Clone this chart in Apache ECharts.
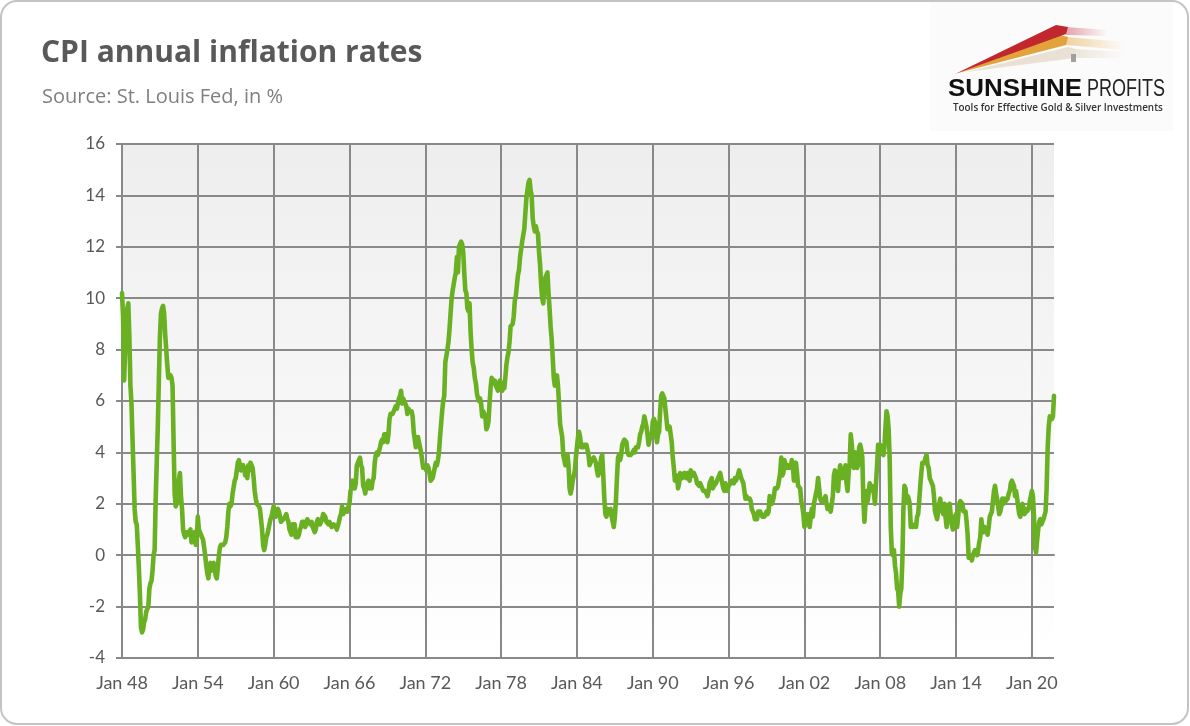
<!DOCTYPE html>
<html>
<head>
<meta charset="utf-8">
<script src="https://cdn.jsdelivr.net/npm/echarts@6/dist/echarts.min.js"></script>
<style>
html,body{margin:0;padding:0;background:#fff;}
#chart{width:1190px;height:726px;}
</style>
</head>
<body>
<div id="chart"></div>
<script>
// ---- data: CPI annual inflation rate (%), monthly, Jan 1948 - Oct 2021 ----
const monthNames = ['Jan','Feb','Mar','Apr','May','Jun','Jul','Aug','Sep','Oct','Nov','Dec'];
const startYear = 1948;
const tickLabels = ['Jan 48','Jan 54','Jan 60','Jan 66','Jan 72','Jan 78','Jan 84','Jan 90','Jan 96','Jan 02','Jan 08','Jan 14','Jan 20'];

const infl1948_1959 = [
  10.2, 9.3, 6.8, 8.0, 9.0, 9.6, 9.8, 8.5, 6.6, 5.9, 4.5, 3.2,
  1.8, 1.3, 1.2, 0.4, -0.5, -1.5, -2.8, -3.0, -2.9, -2.6, -2.5, -2.2,
  -2.1, -2.0, -1.3, -1.1, -1.0, -0.6, 0.0, 0.2, 2.2, 3.6, 5.0, 6.8,
  8.5, 9.4, 9.6, 9.7, 9.4, 8.6, 8.0, 7.4, 6.9, 6.9, 7.0, 6.9,
  6.6, 4.4, 2.4, 1.9, 1.9, 2.1, 2.9, 3.2, 2.3, 1.8, 1.0, 0.8,
  0.7, 0.7, 0.9, 0.8, 0.8, 1.0, 0.5, 0.6, 0.6, 0.9, 0.4, 0.6,
  1.5, 1.0, 0.9, 0.8, 0.8, 0.6, 0.3, 0.0, -0.4, -0.7, -0.9, -0.5,
  -0.3, -0.6, -0.4, -0.3, -0.5, -0.8, -0.9, -0.5, 0.0, 0.3, 0.4, 0.4,
  0.4, 0.4, 0.5, 0.7, 1.1, 1.7, 2.0, 1.9, 2.0, 2.4, 2.4, 2.9,
  3.0, 3.3, 3.6, 3.7, 3.5, 3.3, 3.3, 3.5, 3.4, 3.1, 3.4, 3.0,
  3.5, 3.3, 3.6, 3.6, 3.4, 3.0, 2.5, 2.2, 2.0, 2.0, 1.9, 1.8,
  1.4, 1.0, 0.4, 0.2, 0.4, 0.7, 0.8, 1.0, 1.2, 1.4, 1.5, 1.7
];
const infl1960_1969 = [
  1.9, 1.7, 1.5, 1.7, 1.8, 1.7, 1.5, 1.3, 1.3, 1.4, 1.4, 1.5,
  1.6, 1.4, 1.3, 1.0, 0.9, 0.8, 1.2, 1.0, 1.2, 0.7, 0.7, 0.7,
  0.8, 1.0, 1.1, 1.3, 1.3, 1.3, 1.1, 1.2, 1.4, 1.3, 1.3, 1.2,
  1.3, 1.1, 1.0, 0.9, 1.0, 1.3, 1.4, 1.4, 1.2, 1.3, 1.4, 1.6,
  1.6, 1.5, 1.3, 1.3, 1.2, 1.3, 1.3, 1.1, 1.1, 1.2, 1.2, 1.1,
  1.0, 1.0, 1.3, 1.5, 1.6, 1.9, 1.6, 1.7, 1.7, 1.8, 1.7, 1.9,
  2.0, 2.5, 2.6, 2.9, 2.8, 2.6, 2.8, 3.5, 3.5, 3.7, 3.8, 3.5,
  3.4, 2.7, 2.6, 2.4, 2.7, 2.8, 2.9, 2.6, 2.8, 2.6, 2.9, 3.0,
  3.6, 3.9, 4.0, 3.9, 3.9, 4.2, 4.4, 4.5, 4.4, 4.7, 4.7, 4.7,
  4.4, 4.7, 5.3, 5.5, 5.5, 5.5, 5.5, 5.7, 5.8, 5.7, 5.9, 6.1
];
const infl1970_1979 = [
  6.2, 6.4, 5.9, 6.1, 6.0, 6.0, 5.8, 5.5, 5.7, 5.6, 5.6, 5.6,
  5.4, 4.8, 4.5, 4.2, 4.4, 4.6, 4.4, 4.4, 4.0, 3.7, 3.4, 3.4,
  3.4, 3.3, 3.5, 3.4, 3.2, 2.9, 2.9, 3.0, 3.2, 3.4, 3.6, 3.5,
  3.7, 4.0, 4.6, 5.1, 5.6, 6.0, 6.2, 7.5, 7.5, 8.0, 8.3, 8.8,
  9.4, 10.0, 10.3, 10.3, 10.8, 11.0, 11.6, 11.0, 12.0, 12.1, 12.2, 12.1,
  11.8, 11.0, 10.3, 10.2, 9.6, 9.5, 9.8, 8.7, 8.0, 7.5, 7.3, 6.9,
  6.7, 6.3, 6.1, 6.0, 6.1, 5.9, 5.4, 5.6, 5.5, 5.4, 4.9, 5.0,
  5.2, 5.9, 6.5, 6.9, 6.8, 6.8, 6.8, 6.6, 6.5, 6.4, 6.7, 6.8,
  6.8, 6.4, 6.6, 6.5, 6.9, 7.4, 7.7, 7.9, 8.3, 8.9, 8.9, 9.0,
  9.3, 9.9, 10.1, 10.5, 10.9, 11.1, 11.6, 11.9, 12.2, 12.2, 12.7, 13.3
];
const infl1980_1989 = [
  13.9, 14.2, 14.5, 14.6, 14.2, 14.0, 13.1, 12.8, 12.6, 12.8, 12.6, 12.5,
  11.8, 11.3, 10.5, 10.0, 9.8, 9.8, 10.8, 10.9, 11.0, 10.2, 9.6, 8.9,
  8.4, 7.7, 6.9, 6.6, 6.9, 7.0, 6.6, 5.9, 5.1, 5.1, 4.6, 3.9,
  3.7, 3.5, 3.6, 3.9, 3.5, 2.6, 2.4, 2.6, 2.9, 2.9, 3.3, 3.8,
  4.2, 4.6, 4.8, 4.6, 4.2, 4.2, 4.2, 4.3, 4.3, 4.3, 4.1, 3.9,
  3.5, 3.5, 3.7, 3.7, 3.8, 3.8, 3.6, 3.3, 3.1, 3.2, 3.5, 3.8,
  3.9, 3.1, 2.2, 1.6, 1.5, 1.8, 1.6, 1.6, 1.8, 1.5, 1.3, 1.1,
  1.5, 2.1, 3.0, 3.8, 3.9, 3.7, 3.9, 4.3, 4.4, 4.5, 4.5, 4.4,
  4.0, 3.9, 3.9, 3.9, 3.9, 4.0, 4.1, 4.0, 4.2, 4.2, 4.2, 4.4,
  4.7, 4.8, 5.0, 5.1, 5.4, 5.2, 5.0, 4.7, 4.3, 4.5, 4.7, 4.6
];
const infl1990_1999 = [
  5.2, 5.3, 5.2, 4.7, 4.4, 4.7, 4.8, 5.6, 6.2, 6.3, 6.3, 6.1,
  5.7, 5.3, 4.9, 4.9, 5.0, 4.7, 4.4, 3.8, 3.4, 2.9, 3.0, 3.1,
  2.6, 2.8, 3.2, 3.2, 3.0, 3.1, 3.2, 3.1, 3.0, 3.2, 3.0, 2.9,
  3.3, 3.2, 3.1, 3.2, 3.2, 3.0, 2.8, 2.8, 2.7, 2.8, 2.7, 2.7,
  2.5, 2.5, 2.5, 2.4, 2.3, 2.5, 2.8, 2.9, 3.0, 2.6, 2.7, 2.7,
  2.8, 2.9, 2.9, 3.1, 3.2, 3.0, 2.8, 2.6, 2.5, 2.8, 2.6, 2.5,
  2.7, 2.7, 2.8, 2.9, 2.9, 2.8, 3.0, 2.9, 3.0, 3.0, 3.3, 3.3,
  3.0, 3.0, 2.8, 2.5, 2.2, 2.3, 2.2, 2.2, 2.2, 2.1, 1.8, 1.7,
  1.6, 1.4, 1.4, 1.4, 1.7, 1.7, 1.7, 1.6, 1.5, 1.5, 1.5, 1.6,
  1.7, 1.6, 1.7, 2.3, 2.1, 2.0, 2.1, 2.3, 2.6, 2.6, 2.6, 2.7
];
const infl2000_2009 = [
  2.7, 3.2, 3.8, 3.1, 3.2, 3.7, 3.7, 3.4, 3.5, 3.4, 3.4, 3.4,
  3.7, 3.5, 2.9, 3.3, 3.6, 3.2, 2.7, 2.7, 2.6, 2.1, 1.9, 1.6,
  1.1, 1.1, 1.5, 1.6, 1.2, 1.1, 1.5, 1.8, 1.5, 2.0, 2.2, 2.4,
  2.6, 3.0, 3.0, 2.2, 2.1, 2.1, 2.1, 2.2, 2.3, 2.0, 1.8, 1.9,
  1.9, 1.7, 1.7, 2.3, 3.1, 3.3, 3.0, 2.7, 2.5, 3.2, 3.5, 3.3,
  3.0, 3.0, 3.1, 3.5, 2.8, 2.5, 3.2, 3.6, 4.7, 4.3, 3.5, 3.4,
  4.0, 3.6, 3.4, 3.5, 4.2, 4.3, 4.1, 3.8, 2.1, 1.3, 2.0, 2.5,
  2.1, 2.4, 2.8, 2.6, 2.7, 2.7, 2.4, 2.0, 2.8, 3.5, 4.3, 4.1,
  4.3, 4.0, 4.0, 3.9, 4.2, 5.0, 5.6, 5.4, 4.9, 3.7, 1.1, 0.1,
  0.0, 0.2, -0.4, -0.7, -1.3, -1.4, -2.0, -1.5, -1.3, -0.2, 1.8, 2.7
];
const infl2010_2021 = [
  2.6, 2.1, 2.3, 2.2, 2.0, 1.1, 1.2, 1.1, 1.1, 1.2, 1.1, 1.5,
  1.6, 2.1, 2.7, 3.2, 3.6, 3.6, 3.6, 3.8, 3.9, 3.5, 3.4, 3.0,
  2.9, 2.9, 2.7, 2.3, 1.7, 1.7, 1.4, 1.7, 2.0, 2.2, 1.8, 1.7,
  1.6, 2.0, 1.5, 1.1, 1.4, 1.8, 2.0, 1.5, 1.2, 1.0, 1.2, 1.5,
  1.6, 1.1, 1.5, 2.0, 2.1, 2.1, 2.0, 1.7, 1.7, 1.7, 1.3, 0.8,
  -0.1, 0.0, -0.1, -0.2, 0.0, 0.1, 0.2, 0.2, 0.0, 0.2, 0.5, 0.7,
  1.4, 1.0, 0.9, 1.1, 1.0, 1.0, 0.8, 1.1, 1.5, 1.6, 1.7, 2.1,
  2.5, 2.7, 2.4, 2.2, 1.9, 1.6, 1.7, 1.9, 2.2, 2.0, 2.2, 2.1,
  2.1, 2.2, 2.4, 2.5, 2.8, 2.9, 2.9, 2.7, 2.3, 2.5, 2.2, 1.9,
  1.6, 1.5, 1.9, 2.0, 1.8, 1.6, 1.8, 1.7, 1.7, 1.8, 2.1, 2.3,
  2.5, 2.3, 1.5, 0.3, 0.1, 0.6, 1.0, 1.3, 1.4, 1.2, 1.2, 1.4,
  1.4, 1.7, 2.6, 4.2, 5.0, 5.4, 5.4, 5.3, 5.4, 6.2
];

const values = [].concat(infl1948_1959, infl1960_1969, infl1970_1979,
  infl1980_1989, infl1990_1999, infl2000_2009, infl2010_2021);
const categories = values.map((v, i) => {
  const y = startYear + Math.floor(i / 12);
  return monthNames[i % 12] + ' ' + String(y % 100).padStart(2, '0');
});

const chart = echarts.init(document.getElementById('chart'), null, {renderer: 'canvas'});
const gridColor = '#898989';
const labelColor = '#595959';
const fontFam = 'Lato, "Open Sans", sans-serif';

const option = {
  backgroundColor: '#ffffff',
  animation: false,
  grid: {
    left: 122, right: 136, top: 144, bottom: 68,
    show: true, borderWidth: 0,
    backgroundColor: new echarts.graphic.LinearGradient(0, 0, 0, 1, [
      {offset: 0, color: '#eeeeee'}, {offset: 1, color: '#ffffff'}
    ])
  },
  xAxis: {
    type: 'category',
    data: categories,
    boundaryGap: false,
    axisLine: {show: true, lineStyle: {color: gridColor, width: 2}},
    axisTick: {show: false},
    axisLabel: {
      interval: 71, color: labelColor, fontSize: 18, fontFamily: fontFam, margin: 16,
      formatter: v => tickLabels.indexOf(v) >= 0 ? v : ''
    },
    splitLine: {show: true, interval: 71, lineStyle: {color: gridColor, width: 2}}
  },
  yAxis: {
    type: 'value',
    min: -4, max: 16, interval: 2,
    axisLine: {show: true, lineStyle: {color: gridColor, width: 2}},
    axisTick: {show: true, length: 6, lineStyle: {color: gridColor, width: 2}},
    axisLabel: {color: labelColor, fontSize: 17, fontFamily: fontFam, margin: 17},
    splitLine: {show: true, lineStyle: {color: gridColor, width: 2}}
  },
  series: [{
    type: 'line',
    data: values,
    showSymbol: false,
    symbol: 'none',
    lineStyle: {color: '#6ab023', width: 4.6, join: 'round', cap: 'round'},
    z: 5
  }],
  graphic: [
    // logo background
    {type: 'rect', shape: {x: 930, y: 2, width: 243, height: 129}, style: {fill: '#fbfbfb'}, silent: true, z: 1},
    // streaks
    {type: 'polygon', shape: {points: [[1066,27],[1108,30],[1108,36],[1066,35]]},
      style: {fill: new echarts.graphic.LinearGradient(0,0,1,0,[{offset:0,color:'rgba(200,60,70,0.45)'},{offset:1,color:'rgba(200,60,70,0)'}])}, silent: true, z: 2},
    {type: 'polygon', shape: {points: [[1066,37],[1125,42],[1125,50],[1066,45]]},
      style: {fill: new echarts.graphic.LinearGradient(0,0,1,0,[{offset:0,color:'rgba(230,170,70,0.5)'},{offset:1,color:'rgba(230,170,70,0)'}])}, silent: true, z: 2},
    {type: 'polygon', shape: {points: [[1074,49],[1125,52],[1125,58],[1074,58]]},
      style: {fill: new echarts.graphic.LinearGradient(0,0,1,0,[{offset:0,color:'rgba(225,215,195,0.6)'},{offset:1,color:'rgba(225,215,195,0)'}])}, silent: true, z: 2},
    {type: 'polygon', shape: {points: [[966,72],[1068,47],[1076,49],[1075,58]]}, style: {fill: '#e9e2d4'}, silent: true, z: 3},
    {type: 'polygon', shape: {points: [[958,73],[1060,35],[1068,37],[1066,45]]}, style: {fill: '#e2a33b'}, silent: true, z: 3},
    {type: 'polygon', shape: {points: [[955,74],[1056,25],[1068,27],[1066,34]]}, style: {fill: '#c1272d'}, silent: true, z: 3},
    {type: 'rect', shape: {x: 1071, y: 54, width: 5, height: 8}, style: {fill: '#a0a0a0'}, silent: true, z: 3},
    // logo texts
    {type: 'text', x: 948, y: 89, scaleX: 1.08, silent: true, z: 3,
      style: {text: 'SUNSHINE', fill: '#111', font: 'bold 24px "Liberation Sans", Arial, sans-serif', verticalAlign: 'middle'}},
    {type: 'text', x: 1087, y: 89, scaleX: 0.75, silent: true, z: 3,
      style: {text: 'PROFITS', fill: '#222', font: '24px "Liberation Sans", Arial, sans-serif', verticalAlign: 'middle'}},
    {type: 'text', x: 953, y: 108, scaleX: 0.94, silent: true, z: 3,
      style: {text: 'Tools for Effective Gold & Silver Investments', fill: '#333', font: '600 10.5px "Open Sans", sans-serif', verticalAlign: 'middle'}},
    // title and subtitle
    {type: 'text', x: 41, y: 53, silent: true, z: 3,
      style: {text: 'CPI annual inflation rates', fill: '#595959', font: 'bold 30px "Open Sans", sans-serif', verticalAlign: 'middle'}},
    {type: 'text', x: 42, y: 97, silent: true, z: 3,
      style: {text: 'Source: St. Louis Fed, in %', fill: '#7f7f7f', font: '20px "Open Sans", sans-serif', verticalAlign: 'middle'}},
    // outer rounded border
    {type: 'rect', shape: {x: 1, y: 1, width: 1187, height: 723, r: 16},
      style: {fill: 'none', stroke: '#c4c4c4', lineWidth: 2}, silent: true, z: 10}
  ]
};
chart.setOption(option);
</script>
</body>
</html>
